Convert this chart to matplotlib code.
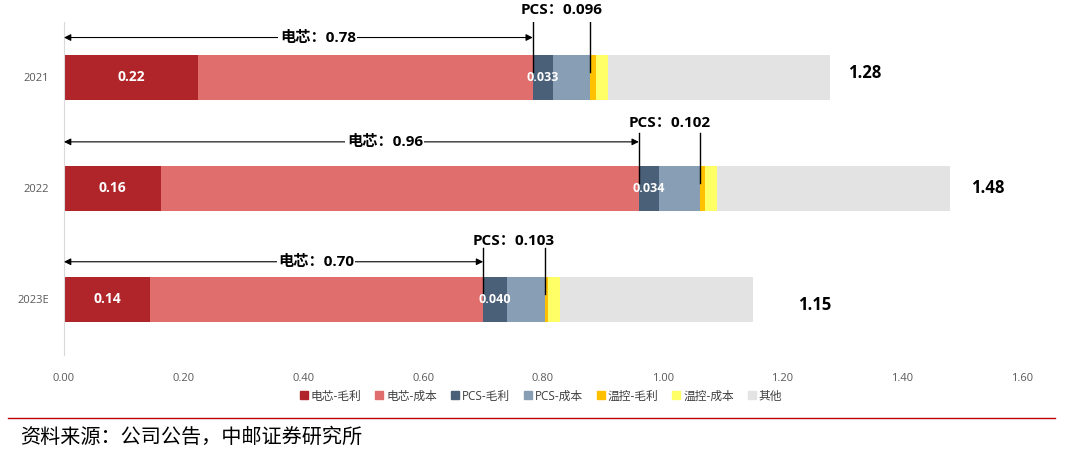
import matplotlib
matplotlib.use("Agg")
from matplotlib import pyplot as plt
from matplotlib.lines import Line2D
import numpy as np

plt.rcParams['font.family'] = ['Open Sans', 'Noto Sans CJK SC', 'DejaVu Sans']

years = ["2021", "2022", "2023E"]
cell_margin = [0.224, 0.162, 0.144]
cell_cost = [0.559, 0.798, 0.556]
pcs_margin = [0.033, 0.034, 0.040]
pcs_cost = [0.063, 0.068, 0.063]
thermal_margin = [0.010, 0.009, 0.005]
thermal_cost = [0.020, 0.020, 0.020]
others = [0.371, 0.389, 0.322]
cell_labels = ["0.22", "0.16", "0.14"]
pcs_margin_labels = ["0.033", "0.034", "0.040"]
cell_totals = ["0.78", "0.96", "0.70"]
pcs_totals = ["0.096", "0.102", "0.103"]
totals = ["1.28", "1.48", "1.15"]

series_names = ["电芯-毛利", "电芯-成本", "PCS-毛利", "PCS-成本", "温控-毛利", "温控-成本", "其他"]
colors = ["#B0252A", "#E06E6C", "#4A5F78", "#889EB4", "#FFC000", "#FFFF66", "#E3E3E3"]

# per-year annotation offsets (layout only)
arrow_off = [-0.36, -0.42, -0.34]
pcs_text_off = [-0.61, -0.59, -0.53]
line_top_off = [-0.50, -0.50, -0.46]
cell_text_x = [0.424, 0.536, 0.421]
total_off = [0.058, 0.063, 0.104]
total_yoff = [-0.04, 0.0, 0.05]

fig = plt.figure(figsize=(10.79, 4.57), dpi=100)
ax = fig.add_axes([0.0593, 0.2232, 0.8879, 0.7287])

y = np.arange(len(years))
data = [cell_margin, cell_cost, pcs_margin, pcs_cost, thermal_margin, thermal_cost, others]
left = np.zeros(len(years))
for vals, c, name in zip(data, colors, series_names):
    ax.barh(y, vals, left=left, height=0.4, color=c, label=name)
    left = left + np.array(vals)

ax.set_xlim(0, 1.6)
ax.set_ylim(2.5, -0.5)
ax.set_xticks(np.arange(0, 1.61, 0.2))
ax.set_xticklabels([f"{v:.2f}" for v in np.arange(0, 1.61, 0.2)])
ax.set_yticks(y)
ax.set_yticklabels(years)
ax.tick_params(axis='both', length=0, labelsize=8, labelcolor="#595959")
ax.tick_params(axis='x', pad=13)
ax.tick_params(axis='y', pad=11)
for s in ['top', 'right', 'bottom']:
    ax.spines[s].set_visible(False)
ax.spines['left'].set_color("#D9D9D9")

for i in range(len(years)):
    cell_end = cell_margin[i] + cell_cost[i]
    pcs_end = cell_end + pcs_margin[i] + pcs_cost[i]
    # value inside bars
    ax.text(cell_margin[i] / 2, y[i], cell_labels[i], color="white", fontsize=10,
            fontweight="bold", ha="center", va="center")
    ax.text(cell_end + pcs_margin[i] / 2, y[i], pcs_margin_labels[i], color="white", fontsize=9,
            fontweight="bold", ha="center", va="center", zorder=5)
    # cell double arrow
    ya = y[i] + arrow_off[i]
    ax.annotate("", xy=(0, ya), xytext=(cell_end, ya),
                arrowprops=dict(arrowstyle="<|-|>", color="black", lw=0.8,
                                shrinkA=0, shrinkB=0, mutation_scale=10))
    ax.text(cell_text_x[i], ya, "电芯：" + cell_totals[i], fontsize=11, fontweight="bold",
            ha="center", va="center", bbox=dict(facecolor="white", edgecolor="none", pad=1))
    # PCS bracket
    for xv in (cell_end, pcs_end):
        ax.plot([xv, xv], [y[i] + line_top_off[i], y[i] - 0.05], color="black", lw=1, zorder=4)
    ax.text((cell_end + pcs_end) / 2, y[i] + pcs_text_off[i], "PCS：" + pcs_totals[i],
            fontsize=11, fontweight="bold", ha="center", va="center", clip_on=False)
    # total
    ax.text(left[i] + total_off[i], y[i] + total_yoff[i], totals[i], fontsize=12,
            fontweight="bold", ha="center", va="center")

handles = [Line2D([], [], marker="s", linestyle="none", markersize=6, color=c) for c in colors]
fig.legend(handles, series_names, loc="center", bbox_to_anchor=(0.5, 0.1335), ncol=7,
           frameon=False, fontsize=8.5, handletextpad=0.0, columnspacing=0.9,
           handlelength=1.2, labelcolor="#404040")

fig.add_artist(Line2D([8 / 1079, 1055 / 1079], [1 - 418 / 457, 1 - 418 / 457], color="#C00000", lw=1))
fig.text(20 / 1079, 1 - 438 / 457, "资料来源：公司公告，中邮证券研究所", fontsize=14.5,
         ha="left", va="center", color="black")

plt.savefig("out.png", dpi=100)
plt.close()
